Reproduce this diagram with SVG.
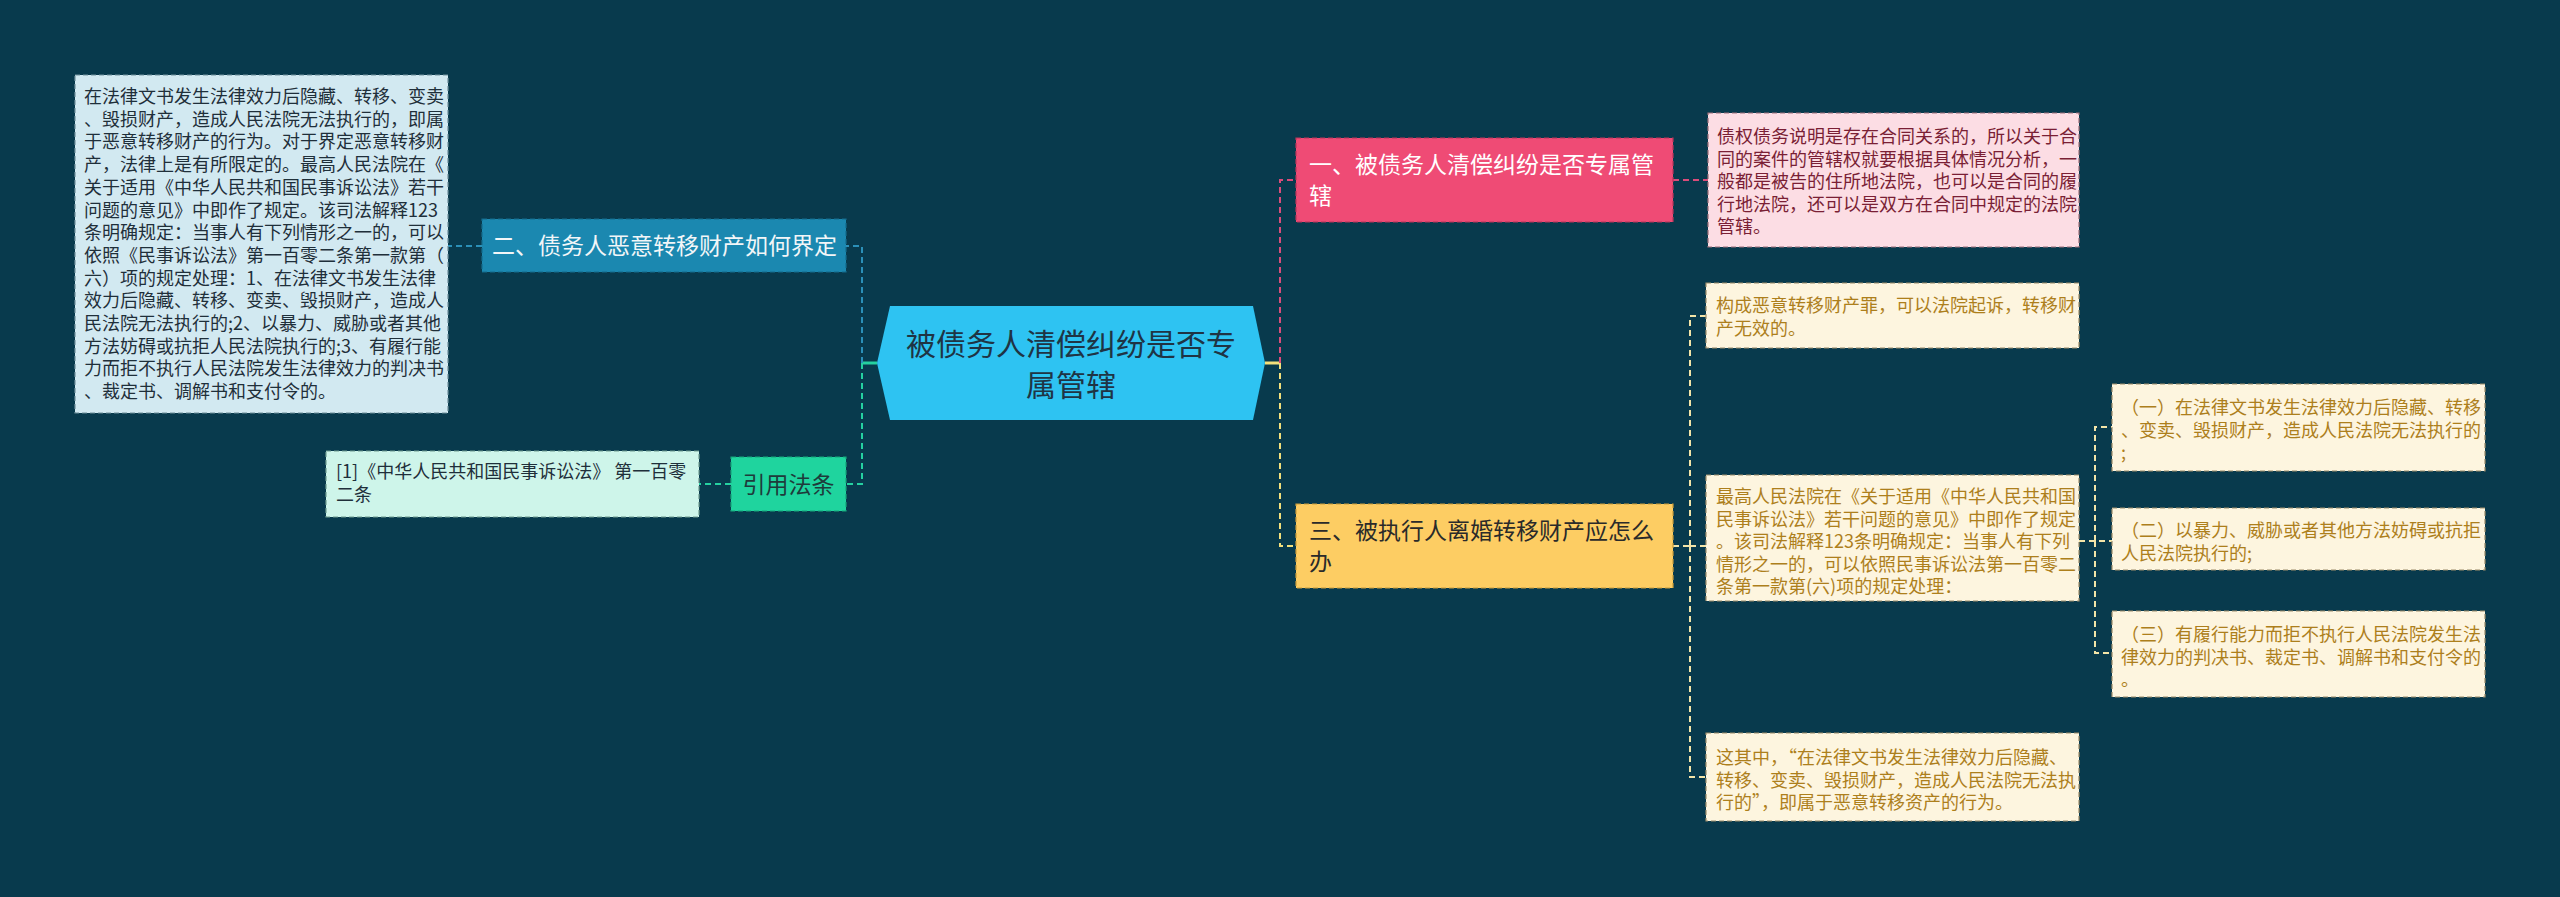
<svg xmlns="http://www.w3.org/2000/svg" width="2560" height="897" viewBox="0 0 2560 897">
<style>
text{font-family:"Noto Sans CJK SC","Noto Sans",sans-serif;}
.sm{font-size:18px;}
.big{font-size:23px;}
.conn{fill:none;stroke-width:2;stroke-dasharray:6,4;}
.solid{fill:none;stroke-width:3;}
.bd{stroke-width:1.2;stroke-dasharray:5,3;}
</style>
<rect width="2560" height="897" fill="#083a4d"/>
<g id="connectors">
  <!-- left side -->
  <path class="solid" d="M877,363 H862" stroke="#25d0a0"/>
  <path class="conn" d="M862,363 V246 H846" stroke="#2b90b8"/>
  <path class="conn" d="M862,363 V484 H846" stroke="#25d0a0"/>
  <path class="conn" d="M482,246 H448" stroke="#2b90b8"/>
  <path class="conn" d="M731,484 H699" stroke="#25d0a0"/>
  <!-- right side -->
  <path class="solid" d="M1265,363 H1280" stroke="#f3e07c"/>
  <path class="conn" d="M1280,363 V180 H1296" stroke="#d94c7a"/>
  <path class="conn" d="M1280,363 V546 H1296" stroke="#f3e07c"/>
  <path class="conn" d="M1673,180 H1708" stroke="#d94c7a"/>
  <path class="conn" d="M1673,546 H1690" stroke="#f3e4a8"/>
  <path class="conn" d="M1690,546 V316 H1706" stroke="#f3e4a8"/>
  <path class="conn" d="M1690,546 H1706" stroke="#f3e4a8"/>
  <path class="conn" d="M1690,546 V777 H1706" stroke="#f3e4a8"/>
  <path class="conn" d="M2079,541 H2112" stroke="#f3e4a8"/>
  <path class="conn" d="M2095,541 V427 H2112" stroke="#f3e4a8"/>
  <path class="conn" d="M2095,541 V653 H2112" stroke="#f3e4a8"/>
</g>
<g id="center">
  <polygon points="877,363 890,306 1253,306 1265,363 1253,420 890,420" fill="#2ec3f2"/>
  <text x="1071" y="355" font-size="30" fill="#1f3444" text-anchor="middle">被债务人清偿纠纷是否专</text>
  <text x="1071" y="396" font-size="30" fill="#1f3444" text-anchor="middle">属管辖</text>
</g>
<g id="n2">
  <rect x="482" y="219" width="364" height="53" fill="#1b88b0" stroke="#156b8c" class="bd"/>
  <text x="492" y="254" class="big" fill="#f2f6f8">二、债务人恶意转移财产如何界定</text>
</g>
<g id="n2detail">
  <rect x="75" y="75" width="373" height="338" fill="#d2e9f1" stroke="#6f8f9c" class="bd"/>
  <text class="sm" fill="#1f2f3a">
    <tspan x="84" y="103">在法律文书发生法律效力后隐藏、转移、变卖</tspan>
    <tspan x="84" y="125.7">、毁损财产，造成人民法院无法执行的，即属</tspan>
    <tspan x="84" y="148.4">于恶意转移财产的行为。对于界定恶意转移财</tspan>
    <tspan x="84" y="171.1">产，法律上是有所限定的。最高人民法院在《</tspan>
    <tspan x="84" y="193.8">关于适用《中华人民共和国民事诉讼法》若干</tspan>
    <tspan x="84" y="216.5">问题的意见》中即作了规定。该司法解释123</tspan>
    <tspan x="84" y="239.2">条明确规定：当事人有下列情形之一的，可以</tspan>
    <tspan x="84" y="261.9">依照《民事诉讼法》第一百零二条第一款第（</tspan>
    <tspan x="84" y="284.6">六）项的规定处理：1、在法律文书发生法律</tspan>
    <tspan x="84" y="307.3">效力后隐藏、转移、变卖、毁损财产，造成人</tspan>
    <tspan x="84" y="330">民法院无法执行的;2、以暴力、威胁或者其他</tspan>
    <tspan x="84" y="352.7">方法妨碍或抗拒人民法院执行的;3、有履行能</tspan>
    <tspan x="84" y="375.4">力而拒不执行人民法院发生法律效力的判决书</tspan>
    <tspan x="84" y="398.1">、裁定书、调解书和支付令的。</tspan>
  </text>
</g>
<g id="nlaw">
  <rect x="731" y="457" width="115" height="54" fill="#1fd49e" stroke="#17a57b" class="bd"/>
  <text x="788.5" y="493" class="big" fill="#1e3b3b" text-anchor="middle">引用法条</text>
</g>
<g id="nlawdetail">
  <rect x="326" y="451" width="373" height="66" fill="#cef5ea" stroke="#6f9c90" class="bd"/>
  <text class="sm" fill="#1f2f3a">
    <tspan x="336" y="478">[1]《中华人民共和国民事诉讼法》 第一百零</tspan>
    <tspan x="336" y="501">二条</tspan>
  </text>
</g>
<g id="n1">
  <rect x="1296" y="138" width="377" height="84" fill="#ef4b75" stroke="#b8355a" class="bd"/>
  <text class="big" fill="#ffffff">
    <tspan x="1309" y="173">一、被债务人清偿纠纷是否专属管</tspan>
    <tspan x="1309" y="204">辖</tspan>
  </text>
</g>
<g id="n1detail">
  <rect x="1708" y="113" width="371" height="134" fill="#fcdde4" stroke="#9c6f7a" class="bd"/>
  <text class="sm" fill="#7a1f35">
    <tspan x="1717" y="143">债权债务说明是存在合同关系的，所以关于合</tspan>
    <tspan x="1717" y="165.5">同的案件的管辖权就要根据具体情况分析，一</tspan>
    <tspan x="1717" y="188">般都是被告的住所地法院，也可以是合同的履</tspan>
    <tspan x="1717" y="210.5">行地法院，还可以是双方在合同中规定的法院</tspan>
    <tspan x="1717" y="233">管辖。</tspan>
  </text>
</g>
<g id="n3">
  <rect x="1296" y="504" width="377" height="84" fill="#fdcd63" stroke="#c99b3a" class="bd"/>
  <text class="big" fill="#2a2a2a">
    <tspan x="1309" y="539">三、被执行人离婚转移财产应怎么</tspan>
    <tspan x="1309" y="570">办</tspan>
  </text>
</g>
<g id="n3a">
  <rect x="1706" y="283" width="373" height="65" fill="#fdf5df" stroke="#9c8c6a" class="bd"/>
  <text class="sm" fill="#ad7f1c">
    <tspan x="1716" y="312">构成恶意转移财产罪，可以法院起诉，转移财</tspan>
    <tspan x="1716" y="335">产无效的。</tspan>
  </text>
</g>
<g id="n3b">
  <rect x="1706" y="475" width="373" height="126" fill="#fdf5df" stroke="#9c8c6a" class="bd"/>
  <text class="sm" fill="#ad7f1c">
    <tspan x="1716" y="503">最高人民法院在《关于适用《中华人民共和国</tspan>
    <tspan x="1716" y="525.5">民事诉讼法》若干问题的意见》中即作了规定</tspan>
    <tspan x="1716" y="548">。该司法解释123条明确规定：当事人有下列</tspan>
    <tspan x="1716" y="570.5">情形之一的，可以依照民事诉讼法第一百零二</tspan>
    <tspan x="1716" y="593">条第一款第(六)项的规定处理：</tspan>
  </text>
</g>
<g id="n3c">
  <rect x="1706" y="733" width="373" height="88" fill="#fdf5df" stroke="#9c8c6a" class="bd"/>
  <text class="sm" fill="#ad7f1c">
    <tspan x="1716" y="764">这其中，“在法律文书发生法律效力后隐藏、</tspan>
    <tspan x="1716" y="786.5">转移、变卖、毁损财产，造成人民法院无法执</tspan>
    <tspan x="1716" y="809">行的”，即属于恶意转移资产的行为。</tspan>
  </text>
</g>
<g id="n3b1">
  <rect x="2112" y="384" width="373" height="87" fill="#fdf5df" stroke="#9c8c6a" class="bd"/>
  <text class="sm" fill="#ad7f1c">
    <tspan x="2121" y="414">（一）在法律文书发生法律效力后隐藏、转移</tspan>
    <tspan x="2121" y="436.5">、变卖、毁损财产，造成人民法院无法执行的</tspan>
    <tspan x="2121" y="459">;</tspan>
  </text>
</g>
<g id="n3b2">
  <rect x="2112" y="508" width="373" height="62" fill="#fdf5df" stroke="#9c8c6a" class="bd"/>
  <text class="sm" fill="#ad7f1c">
    <tspan x="2121" y="537">（二）以暴力、威胁或者其他方法妨碍或抗拒</tspan>
    <tspan x="2121" y="559.5">人民法院执行的;</tspan>
  </text>
</g>
<g id="n3b3">
  <rect x="2112" y="611" width="373" height="86" fill="#fdf5df" stroke="#9c8c6a" class="bd"/>
  <text class="sm" fill="#ad7f1c">
    <tspan x="2121" y="641">（三）有履行能力而拒不执行人民法院发生法</tspan>
    <tspan x="2121" y="663.5">律效力的判决书、裁定书、调解书和支付令的</tspan>
    <tspan x="2121" y="686">。</tspan>
  </text>
</g>
</svg>
